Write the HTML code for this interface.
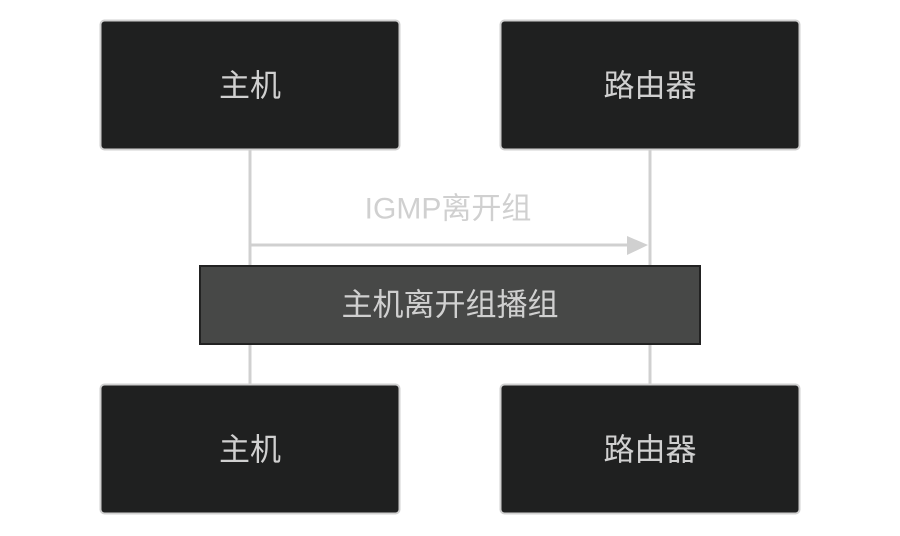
<!DOCTYPE html>
<html><head><meta charset="utf-8"><style>
html,body{margin:0;padding:0;background:#fff;width:900px;height:536px;overflow:hidden}
svg{display:block}
text{font-family:"Liberation Sans","Noto Sans CJK SC",sans-serif;text-anchor:middle;dominant-baseline:central}
</style></head><body>
<svg width="900" height="536" viewBox="0 0 900 536">
<line x1="250" y1="150" x2="250" y2="384" stroke="#d0d0d0" stroke-width="3"/>
<line x1="650" y1="150" x2="650" y2="384" stroke="#d0d0d0" stroke-width="3"/>
<rect x="100.5" y="20.5" width="299" height="129" rx="4" fill="#1f2020" stroke="#d0d0d0" stroke-width="2"/>
<rect x="500.5" y="20.5" width="299" height="129" rx="4" fill="#1f2020" stroke="#d0d0d0" stroke-width="2"/>
<rect x="100.5" y="384.5" width="299" height="129" rx="4" fill="#1f2020" stroke="#d0d0d0" stroke-width="2"/>
<rect x="500.5" y="384.5" width="299" height="129" rx="4" fill="#1f2020" stroke="#d0d0d0" stroke-width="2"/>
<text x="250" y="86" font-size="31" fill="#d0d0d0">主机</text>
<text x="650" y="86" font-size="31" fill="#d0d0d0">路由器</text>
<text x="250" y="450" font-size="31" fill="#d0d0d0">主机</text>
<text x="650" y="450" font-size="31" fill="#d0d0d0">路由器</text>
<text x="448" y="209" font-size="30" fill="#d0d0d0">IGMP离开组</text>
<line x1="250" y1="245" x2="630" y2="245" stroke="#d0d0d0" stroke-width="3"/>
<polygon points="627,236 648,245 627,255" fill="#d0d0d0"/>
<rect x="200" y="266" width="500" height="78" fill="#474847" stroke="#222" stroke-width="2"/>
<text x="450" y="305" font-size="31" fill="#d0d0d0">主机离开组播组</text>
</svg>
</body></html>
